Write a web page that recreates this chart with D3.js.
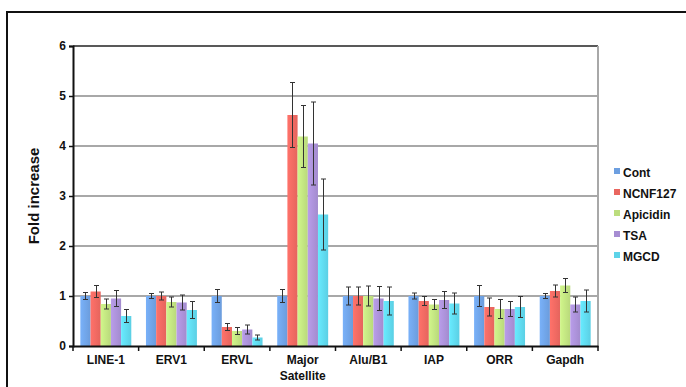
<!DOCTYPE html>
<html><head><meta charset="utf-8">
<script src="https://cdn.jsdelivr.net/npm/d3@7"></script>
<style>
html,body{margin:0;padding:0;background:#fff;}
svg{display:block;}
text{font-family:"Liberation Sans",Arial,Helvetica,sans-serif;font-weight:bold;fill:#111;}
</style></head>
<body>
<script>
const categories = ["LINE-1","ERV1","ERVL","Major Satellite","Alu/B1","IAP","ORR","Gapdh"];
const seriesNames = ["Cont","NCNF127","Apicidin","TSA","MGCD"];
const contValues     = [1.00,1.00,1.00,1.00,1.00,1.00,1.00,1.00];
const ncnf127Values  = [1.09,1.00,0.38,4.62,1.00,0.90,0.78,1.10];
const apicidinValues = [0.84,0.88,0.30,4.19,1.00,0.83,0.74,1.21];
const tsaValues      = [0.95,0.87,0.33,4.05,0.95,0.92,0.74,0.83];
const mgcdValues     = [0.60,0.72,0.17,2.63,0.90,0.85,0.78,0.90];
const contErr     = [0.07,0.05,0.13,0.13,0.18,0.06,0.21,0.05];
const ncnf127Err  = [0.12,0.08,0.07,0.65,0.18,0.09,0.18,0.12];
const apicidinErr = [0.10,0.10,0.07,0.62,0.20,0.10,0.19,0.14];
const tsaErr      = [0.16,0.15,0.09,0.83,0.24,0.17,0.15,0.15];
const mgcdErr     = [0.13,0.17,0.05,0.71,0.28,0.21,0.21,0.22];
const yTicks = [0,1,2,3,4,5,6];
const colors = ["#6d9fe0","#e9665f","#bcdd7d","#a68dd2","#5dd3e8"];

const values = [contValues,ncnf127Values,apicidinValues,tsaValues,mgcdValues];
const errors = [contErr,ncnf127Err,apicidinErr,tsaErr,mgcdErr];

const W=686,H=387;
const svg=d3.select("body").append("svg").attr("width",W).attr("height",H);

// outer frame
svg.append("rect").attr("x",7).attr("y",12).attr("width",W+10).attr("height",H+10)
  .attr("fill","none").attr("stroke","#111").attr("stroke-width",2);

const L=73,R=598,T=46,B=346;
const x=d3.scaleBand().domain(categories).range([L,R]).paddingInner(0).paddingOuter(0);
const xs=d3.scaleBand().domain(seriesNames).range([0,x.bandwidth()]).paddingInner(0).paddingOuter(0.72);
const y=d3.scaleLinear().domain([0,6]).range([B,T]);

const defs=svg.append("defs");
colors.forEach((c,i)=>{
  const g=defs.append("linearGradient").attr("id","g"+i).attr("x1",0).attr("x2",1).attr("y1",0).attr("y2",0);
  g.append("stop").attr("offset","0%").attr("stop-color",d3.color(c).brighter(0.3));
  g.append("stop").attr("offset","100%").attr("stop-color",d3.color(c).darker(0.05));
});

// gridlines
svg.append("g").selectAll("line").data(yTicks.filter(t=>t>0&&t<6)).join("line")
  .attr("x1",L).attr("x2",R).attr("y1",d=>y(d)).attr("y2",d=>y(d))
  .attr("stroke","#a8a8a8").attr("stroke-width",2);
// top border + right border
svg.append("line").attr("x1",L).attr("x2",R).attr("y1",y(6)).attr("y2",y(6)).attr("stroke","#222").attr("stroke-width",1.5);
svg.append("line").attr("x1",R).attr("x2",R).attr("y1",y(6)).attr("y2",B).attr("stroke","#a8a8a8").attr("stroke-width",2);

// bars
const gBars=svg.append("g");
categories.forEach((cat,ci)=>{
  seriesNames.forEach((s,si)=>{
    const v=values[si][ci];
    gBars.append("rect").attr("x",x(cat)+xs(s)).attr("width",xs.bandwidth())
      .attr("y",y(v)).attr("height",y(0)-y(v)).attr("fill","url(#g"+si+")");
  });
});
// error bars
const gErr=svg.append("g").attr("stroke","#333").attr("stroke-width",1);
categories.forEach((cat,ci)=>{
  seriesNames.forEach((s,si)=>{
    const v=values[si][ci], e=errors[si][ci];
    const cx=Math.round(x(cat)+xs(s)+xs.bandwidth()/2)+0.5;
    gErr.append("line").attr("x1",cx).attr("x2",cx).attr("y1",y(v+e)).attr("y2",y(v-e));
    gErr.append("line").attr("x1",cx-2.5).attr("x2",cx+2.5).attr("y1",y(v+e)).attr("y2",y(v+e));
    gErr.append("line").attr("x1",cx-2.5).attr("x2",cx+2.5).attr("y1",y(v-e)).attr("y2",y(v-e));
  });
});

// y axis
const yAxis=svg.append("g").attr("transform",`translate(${L},0)`)
  .call(d3.axisLeft(y).tickValues(yTicks).tickSize(4).tickFormat(d3.format("d")));
yAxis.select(".domain").attr("stroke","#111").attr("stroke-width",2);
yAxis.selectAll(".tick line").attr("stroke","#111").attr("stroke-width",1.5);
yAxis.selectAll(".tick text").attr("font-size",12).attr("font-weight","bold")
  .attr("font-family","Liberation Sans, Arial, sans-serif").attr("fill","#111").attr("x",-7);

// x axis
const xAxis=svg.append("g").attr("transform",`translate(0,${B})`)
  .call(d3.axisBottom(x).tickSize(0).tickFormat(""));
xAxis.select(".domain").attr("stroke","#111").attr("stroke-width",2);
const bounds=d3.range(categories.length+1).map(i=>L+i*x.bandwidth());
svg.append("g").selectAll("line").data(bounds).join("line")
  .attr("x1",d=>d).attr("x2",d=>d).attr("y1",B).attr("y2",B+5).attr("stroke","#111").attr("stroke-width",1.5);

// category labels
svg.append("g").selectAll("text").data(categories).join("text")
  .attr("text-anchor","middle").attr("font-size",12)
  .attr("x",d=>x(d)+x.bandwidth()/2).attr("y",364)
  .each(function(d){
    const parts=d==="Major Satellite"?["Major","Satellite"]:[d];
    parts.forEach((p,i)=>d3.select(this).append("tspan").attr("x",x(d)+x.bandwidth()/2).attr("dy",i?16:0).text(p));
  });

// y title
svg.append("text").attr("transform","translate(39,196) rotate(-90)")
  .attr("text-anchor","middle").attr("font-size",15).text("Fold increase");

// legend
const lg=svg.append("g");
seriesNames.forEach((s,i)=>{
  const ly=172+i*21;
  lg.append("rect").attr("x",614).attr("y",ly-4).attr("width",6).attr("height",6).attr("fill",colors[i]);
  lg.append("text").attr("x",623).attr("y",ly+4.5).attr("font-size",12).text(s);
});
</script>
</body></html>
